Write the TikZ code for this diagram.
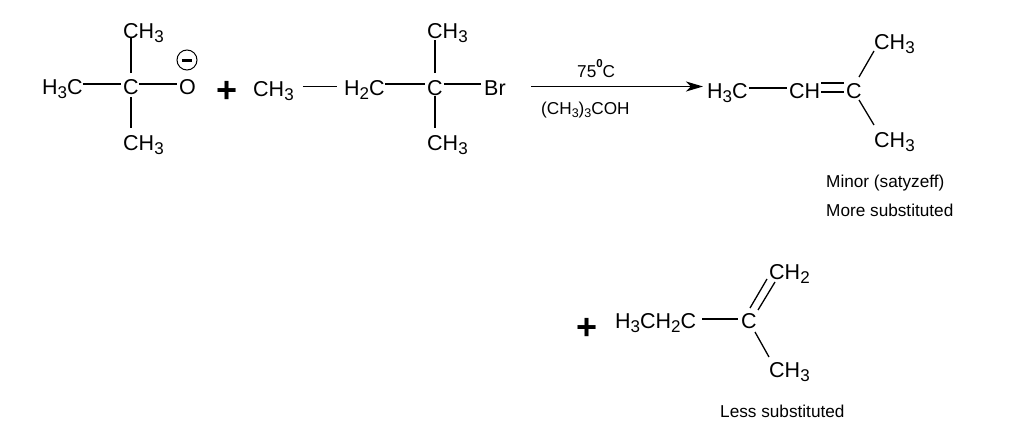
\documentclass[tikz,border=0pt]{standalone}
\usepackage{fontspec}
\setmainfont{Liberation Sans}
\usetikzlibrary{arrows.meta}
\newcommand{\lowidx}[1]{\raisebox{-0.22em}{\fontsize{17}{17}\selectfont #1}}
\newcommand{\smidx}[1]{\raisebox{-0.22em}{\fontsize{12.5}{12.5}\selectfont #1}}
\tikzset{
  atom/.style={anchor=base west,inner sep=0pt,font=\fontsize{21.5}{22}\selectfont,text=black},
  note/.style={anchor=base west,inner sep=0pt,font=\fontsize{17.2}{19}\selectfont,text=black},
  reagent/.style={anchor=base west,inner sep=0pt,font=\fontsize{17.2}{19}\selectfont,text=black},
  plus/.style={inner sep=0pt,font=\fontsize{36}{36}\selectfont\bfseries,text=black},
  bond/.style={draw=black,line width=1.3pt},
  thinbond/.style={draw=black,line width=0.9pt},
  rxn/.style={draw=black,line width=1.9pt,-{Stealth[length=17pt,width=10pt,inset=5pt]}}
}
\begin{document}
\begin{tikzpicture}[x=1pt,y=-1pt]
\useasboundingbox[fill=white] (0,0) rectangle (1014,434);
% tert-butoxide
\node[atom] (a1) at (42,94) {H\lowidx{3}C};
\node[atom] (a2) at (123,94) {C};
\node[atom] (a3) at (123,38) {CH\lowidx{3}};
\node[atom] (a4) at (123,150) {CH\lowidx{3}};
\node[atom] (a5) at (179,94) {O};
\node[draw=black,line width=1pt,circle,minimum size=20pt,inner sep=0pt] (neg) at (187,60) {};
\node[inner sep=0pt,minimum width=10pt,minimum height=3pt,fill=black] (negbar) at (neg.center) {};
\draw[bond] ([xshift=0pt,yshift=10pt]a1.base east) -- ([xshift=-2pt,yshift=10pt]a2.base west);
\draw[bond] ([xshift=0pt,yshift=10pt]a2.base east) -- ([xshift=-2pt,yshift=10pt]a5.base west);
\draw[bond] ([xshift=8pt,yshift=21pt]a2.base west) -- ([xshift=8pt]a3.base west);
\draw[bond] ([xshift=8pt,yshift=-3pt]a2.base west) -- ([xshift=8pt,yshift=22pt]a4.base west);
\node[plus] (p1) at (227,92) {+};
% bromide
\node[atom] (b1) at (253,96) {CH\lowidx{3}};
\node[atom] (b2) at (344,95) {H\lowidx{2}C};
\node[atom] (b3) at (427,95) {C};
\node[atom] (b4) at (427,38) {CH\lowidx{3}};
\node[atom] (b5) at (427,150) {CH\lowidx{3}};
\node[atom] (b6) at (484,95) {Br};
\draw[thinbond] ([xshift=9pt,yshift=10pt]b1.base east) -- ([xshift=-7pt,yshift=9pt]b2.base west);
\draw[bond] ([xshift=0pt,yshift=11pt]b2.base east) -- ([xshift=-2pt,yshift=11pt]b3.base west);
\draw[bond] ([xshift=1pt,yshift=11pt]b3.base east) -- ([xshift=-3pt,yshift=11pt]b6.base west);
\draw[bond] ([xshift=8pt,yshift=22pt]b3.base west) -- ([xshift=8pt,yshift=-2pt]b4.base west);
\draw[bond] ([xshift=8pt,yshift=-1pt]b3.base west) -- ([xshift=8pt,yshift=22pt]b5.base west);
% arrow
\coordinate (arrowstart) at (531,86.5);
\node[reagent] (t1) at (577,77) {75\raisebox{0.55em}{\fontsize{11.5}{11.5}\selectfont\bfseries 0}C};
\node[reagent] (t2) at (541,114) {(CH\smidx{3})\smidx{3}COH};
% minor product
\node[atom] (c1) at (707,98) {H\lowidx{3}C};
\node[atom] (c2) at (789,98) {CH};
\node[atom] (c3) at (846,98) {C};
\node[atom] (c4) at (874,49) {CH\lowidx{3}};
\node[atom] (c5) at (874,147) {CH\lowidx{3}};
\draw[rxn] (arrowstart) -- ([xshift=-4pt,yshift=11.5pt]c1.base west);
\draw[bond] ([xshift=1pt,yshift=10pt]c1.base east) -- ([xshift=-2pt,yshift=10pt]c2.base west);
\draw[bond] ([xshift=1pt,yshift=15pt]c2.base east) -- ([xshift=-2pt,yshift=15pt]c3.base west);
\draw[bond] ([xshift=1pt,yshift=6pt]c2.base east) -- ([xshift=-2pt,yshift=6pt]c3.base west);
\draw[bond] ([xshift=13pt,yshift=21pt]c3.base west) -- ([xshift=0pt,yshift=-2pt]c4.base west);
\draw[bond] ([xshift=13pt,yshift=-2pt]c3.base west) -- ([xshift=0pt,yshift=22pt]c5.base west);
\node[note] (n1) at (826,187) {Minor (satyzeff)};
\node[note] (n2) at (826,216) {More substituted};
% less substituted product
\node[plus] (p2) at (587.5,329) {+};
\node[atom] (d1) at (615,328) {H\lowidx{3}CH\lowidx{2}C};
\node[atom] (d2) at (741,328) {C};
\node[atom] (d3) at (769,279) {CH\lowidx{2}};
\node[atom] (d4) at (769,377) {CH\lowidx{3}};
\draw[bond] ([xshift=6pt,yshift=9pt]d1.base east) -- ([xshift=-3pt,yshift=9pt]d2.base west);
\draw[bond] ([xshift=9pt,yshift=20pt]d2.base west) -- ([xshift=-2pt,yshift=0pt]d3.base west);
\draw[bond] ([xshift=17pt,yshift=18pt]d2.base west) -- ([xshift=6pt,yshift=-3pt]d3.base west);
\draw[bond] ([xshift=14pt,yshift=-4pt]d2.base west) -- ([xshift=0pt,yshift=20pt]d4.base west);
\node[note] (n3) at (720,417) {Less substituted};
\end{tikzpicture}
\end{document}
